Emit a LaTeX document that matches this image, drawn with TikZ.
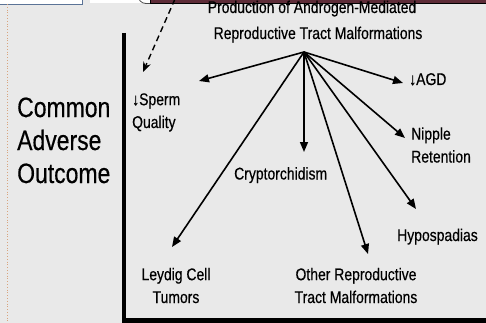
\documentclass[tikz,border=0pt]{standalone}
\usepackage{fontspec}
\setmainfont[FakeStretch=0.82,FakeBold=0.4]{Liberation Sans}
\usetikzlibrary{arrows.meta}
\definecolor{bg}{HTML}{E9E9E9}
\definecolor{boxedge}{HTML}{5B7396}
\definecolor{maroon}{HTML}{5E2C38}
\definecolor{dotc}{HTML}{D8A47E}
\tikzset{
  lbl/.style={inner sep=0pt, font=\fontsize{17}{22.8}\selectfont},
  big/.style={inner sep=0pt, font=\fontsize{28}{33}\selectfont, align=left, anchor=base west},
  arr/.style={line width=1.6pt, -{Triangle[length=10pt,width=8pt]}},
  dasharr/.style={line width=1.4pt, dash pattern=on 6pt off 4pt, -{Stealth[length=10pt,width=8pt]}},
}
\begin{document}
\begin{tikzpicture}[x=1pt,y=-1pt]
\useasboundingbox (0,0) rectangle (486,323);
\fill[bg] (0,0) rectangle (486,323);
% top decorations
\fill[white] (90,-1) rectangle (150,3.5);
\draw[fill=white, draw=boxedge, line width=0.8pt] (-2,-5) rectangle (82,4);
\draw[draw=black!70, fill=white, line width=0.8pt, rounded corners=8pt] (138,-12) rectangle (495,3.5);
\draw[fill=maroon, draw=black, line width=0.8pt] (150,-5) rectangle (495,3.2);
\draw[dotc, line width=0.8pt, dotted] (7,4) -- (7,323);
% thick L
\draw[line width=4.5pt] (124,33) -- (124,320.5) -- (490,320.5);
% titles
\node[lbl, anchor=base] (t1) at (312,13) {Production of Androgen-Mediated};
\node[lbl, anchor=base] (t2) at (318,39) {Reproductive Tract Malformations};
\node[big] (common) at (17,183) {Common\\Adverse\\Outcome};
% labels
\node[lbl, align=left, anchor=base west] (sperm) at (132,128) {↓Sperm\\Quality};
\node[lbl, anchor=base west] (agd) at (409,85) {↓AGD};
\node[lbl, align=left, anchor=base west] (nipple) at (411,162.5) {Nipple\\Retention};
\node[lbl, anchor=base west] (crypt) at (234,179.5) {Cryptorchidism};
\node[lbl, anchor=base west] (hypo) at (397,241) {Hypospadias};
\node[lbl, align=center, anchor=base] (other) at (356,303) {Other Reproductive\\Tract Malformations};
\node[lbl, align=center, anchor=base] (leydig) at (176,303) {Leydig Cell\\Tumors};
% connectors
\coordinate (hub) at (304,52);
\coordinate (pS) at (199,81);
\coordinate (pA) at (403,83);
\coordinate (pC) at (304,152);
\coordinate (pN) at (405,138);
\coordinate (pH) at (416,209);
\coordinate (pO) at (368,254);
\coordinate (pL) at (172,247);
\coordinate (dstart) at (175,-1);
\coordinate (dend) at (143,72);
\draw[arr] (hub) -- (pS);
\draw[arr] (hub) -- (pA);
\draw[arr] (hub) -- (pC);
\draw[arr] (hub) -- (pN);
\draw[arr] (hub) -- (pH);
\draw[arr] (hub) -- (pO);
\draw[arr] (hub) -- (pL);
\draw[dasharr] (dstart) -- (dend);
\end{tikzpicture}
\end{document}
